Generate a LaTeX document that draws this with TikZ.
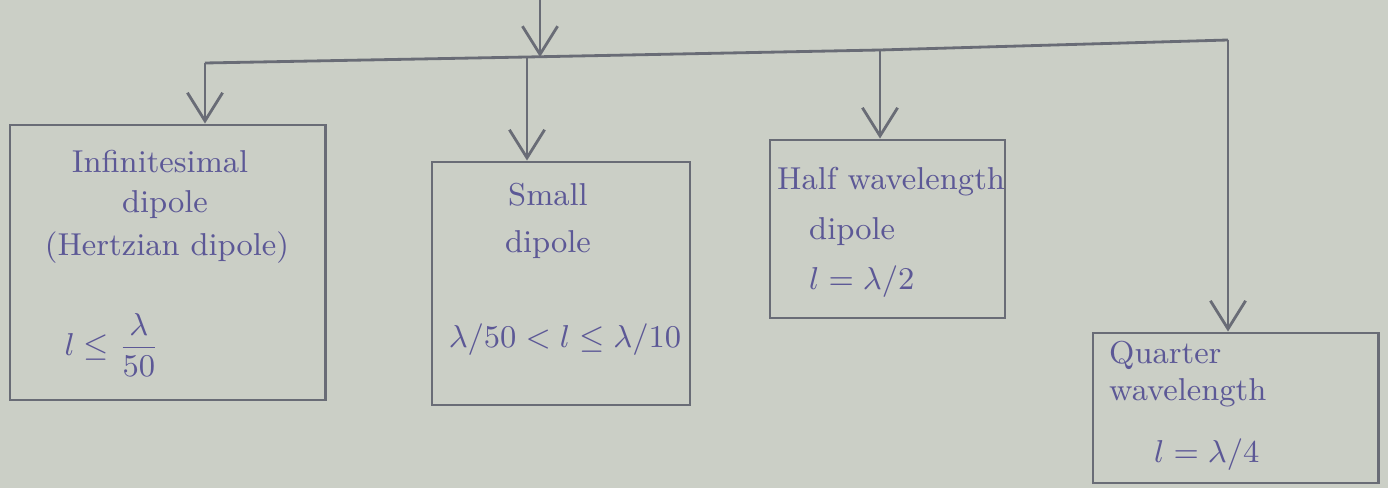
\documentclass[tikz,border=0pt]{standalone}
\usetikzlibrary{arrows.meta}
\definecolor{paper}{RGB}{203,207,198}
\definecolor{pencil}{RGB}{105,108,118}
\definecolor{ink}{RGB}{92,88,150}
\begin{document}
\begin{tikzpicture}[x=0.01cm,y=-0.01cm,
  box/.style={draw=pencil,line width=0.8pt,rectangle,inner sep=0pt},
  lbl/.style={text=ink,font=\fontsize{9}{11}\selectfont,inner sep=1pt},
  wire/.style={draw=pencil,line width=0.8pt},
  arr/.style={wire,-{Straight Barb[length=8pt,width=10pt,line width=0.8pt]}}]
\fill[paper] (0,0) rectangle (1388,488);
\useasboundingbox (0,0) rectangle (1388,488);
% boxes
\node[box,minimum width=3.15cm,minimum height=2.75cm] (b1) at (167.5,262.5) {};
\node[box,minimum width=2.58cm,minimum height=2.43cm] (b2) at (561,283.5) {};
\node[box,minimum width=2.35cm,minimum height=1.78cm] (b3) at (887.5,229) {};
\node[box,minimum width=2.85cm,minimum height=1.50cm] (b4) at (1235.5,408) {};
% labels
\node[lbl] (t1a) at (160,162) {Infinitesimal};
\node[lbl] (t1b) at (165,205) {dipole};
\node[lbl] (t1c) at (167,248) {(Hertzian dipole)};
\node[lbl] (t1d) at (112,345) {$l \le \displaystyle\frac{\lambda}{50}$};
\node[lbl] (t2a) at (548,195) {Small};
\node[lbl] (t2b) at (548,245) {dipole};
\node[lbl] (t2c) at (565,340) {$\lambda/50 < l \le \lambda/10$};
\node[lbl,anchor=west] (t3a) at (773,182) {Half wavelength};
\node[lbl,anchor=west] (t3b) at (805,232) {dipole};
\node[lbl,anchor=west] (t3c) at (805,282) {$l = \lambda/2$};
\node[lbl,anchor=west] (t4a) at (1105,355) {Quarter};
\node[lbl,anchor=west] (t4b) at (1105,393) {wavelength};
\node[lbl,anchor=west] (t4c) at (1150,455) {$l = \lambda/4$};
% connectors
\coordinate (src) at (540,0);
\coordinate (jL) at (205,63);
\coordinate (jS) at (527,57);
\coordinate (jH) at (880,50);
\coordinate (jR) at (1228,40);
\draw[arr] (src) -- (540,57);
\draw[wire] (jL) -- (jS) -- (jH) -- (jR);
\draw[arr] (jL) -- (b1.north -| jL);
\draw[arr] (jS) -- (b2.north -| jS);
\draw[arr] (jH) -- (b3.north -| jH);
\draw[arr] (jR) -- (b4.north -| jR);
\end{tikzpicture}
\end{document}
